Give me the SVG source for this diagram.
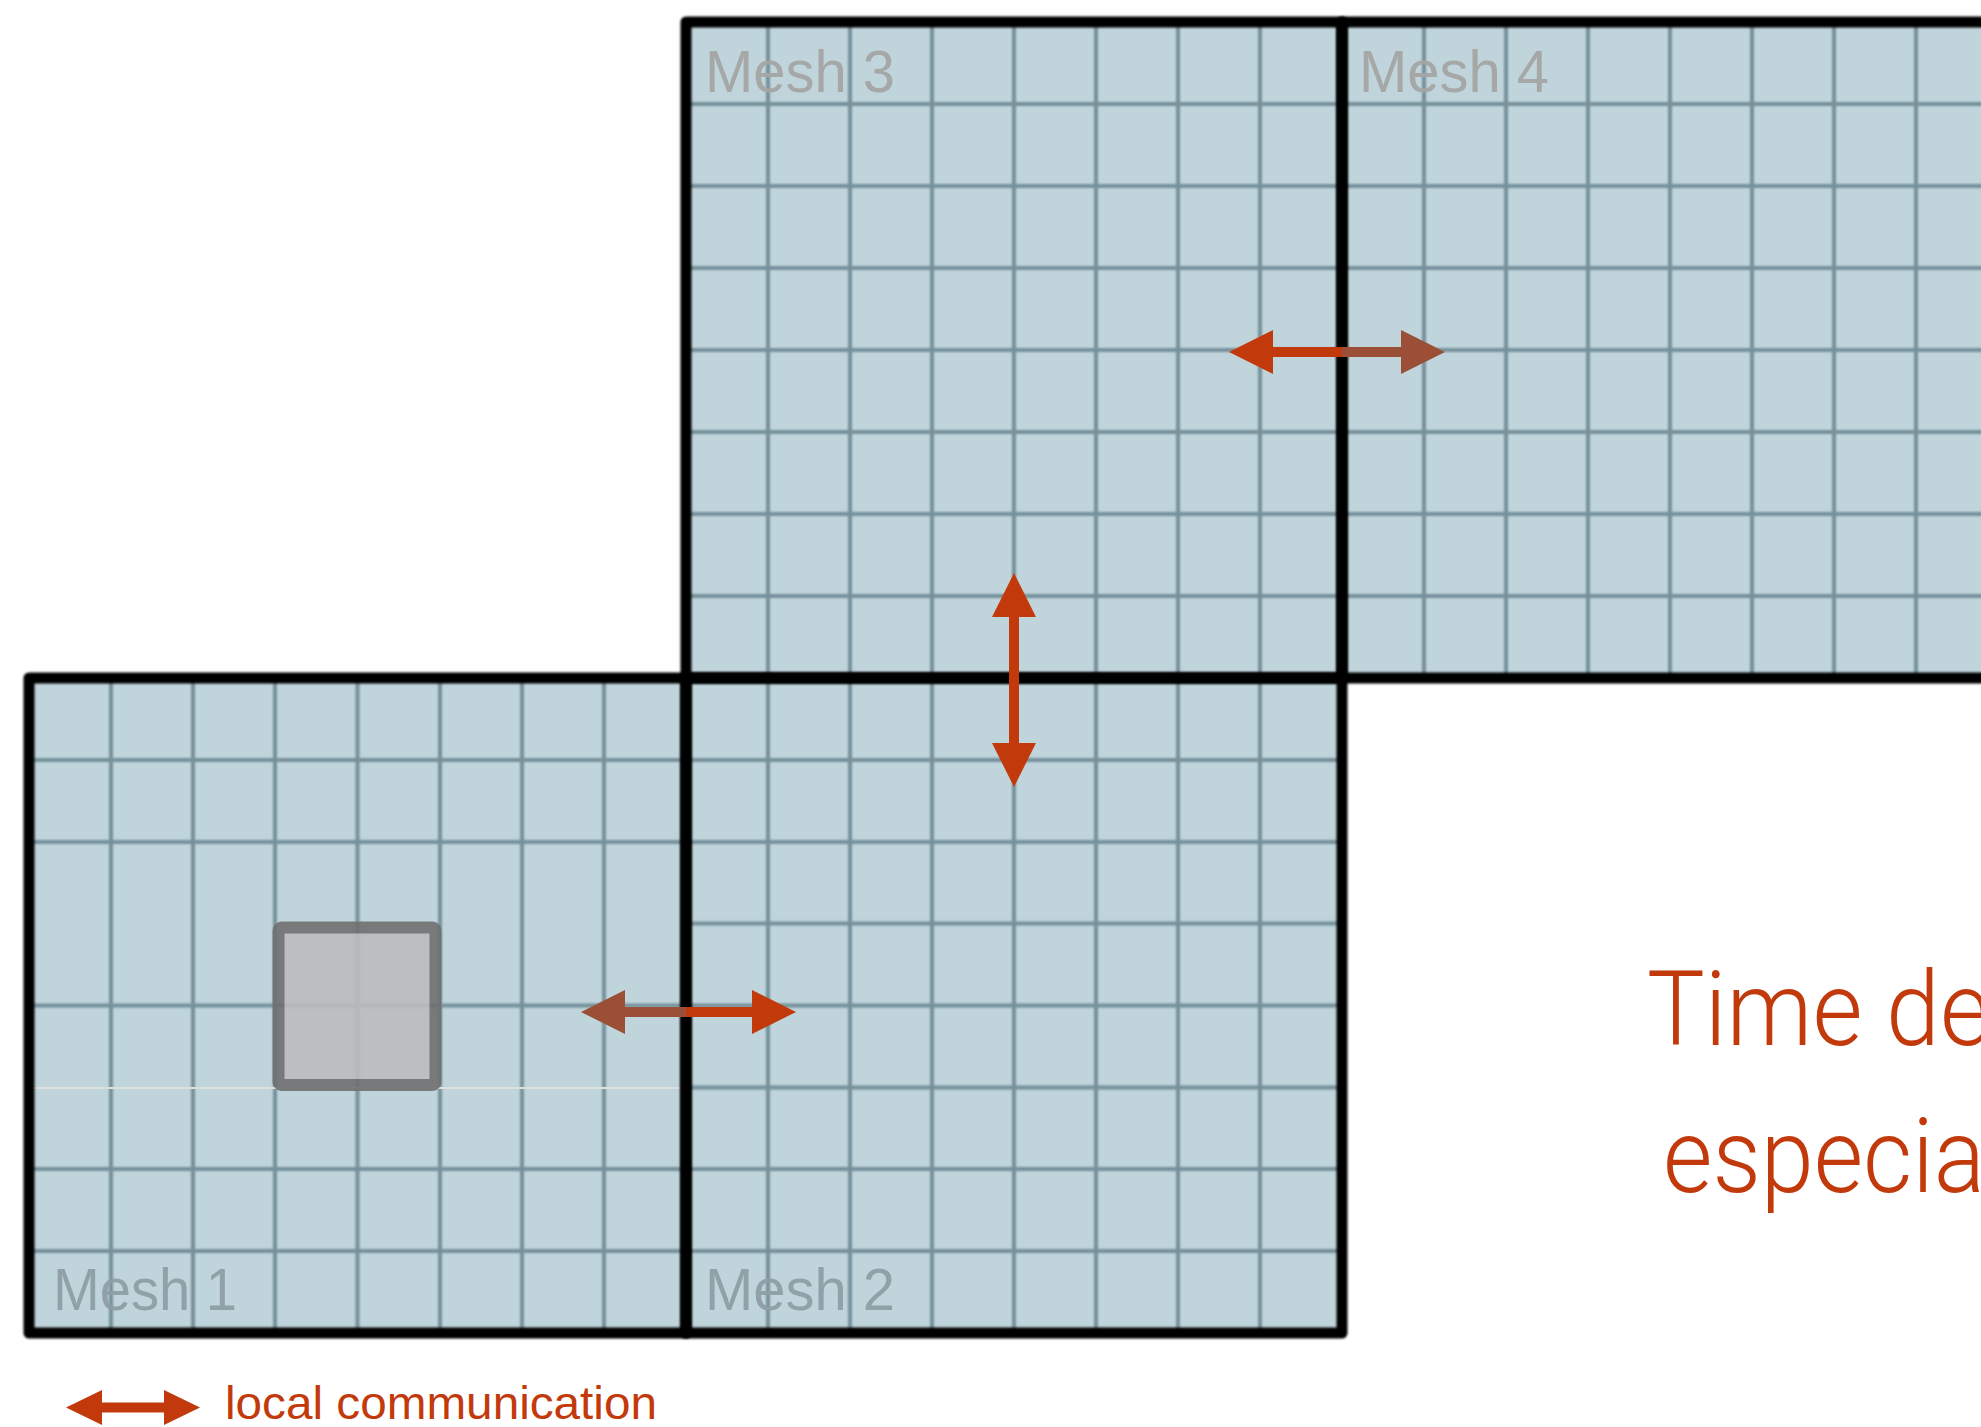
<svg xmlns="http://www.w3.org/2000/svg" width="1981" height="1427" viewBox="0 0 1981 1427">
  <defs>
    <style>
      .fill { fill: #c0d4db; stroke: none; }
      .grid { fill: none; stroke: #74909a; stroke-width: 4; filter: url(#soft); }
      .border { fill: none; stroke: #000000; stroke-width: 11; stroke-linejoin: round; stroke-linecap: round; filter: url(#softer); }
      .lbl-top { font-family: "Liberation Sans", Arial, sans-serif; font-size: 60px; fill: #a5a5a5; }
      .lbl-bot { font-family: "Liberation Sans", Arial, sans-serif; font-size: 60px; fill: #8e9fa5; }
      .bright { stroke: #c23a0b; stroke-width: 10; fill: none; }
      .brown { stroke: #9b4f36; stroke-width: 10; fill: none; }
      .big { font-family: Roboto, "Open Sans", "DejaVu Sans", sans-serif; font-weight: 300; font-size: 104px; fill: #c23a0b; }
      .legend { font-family: "Liberation Sans", Arial, sans-serif; font-size: 47px; fill: #c23a0b; }
    </style>
    <filter id="soft" x="-5%" y="-5%" width="110%" height="110%">
      <feGaussianBlur stdDeviation="1.1"/>
    </filter>
    <filter id="softer" x="-5%" y="-5%" width="110%" height="110%">
      <feGaussianBlur stdDeviation="0.8"/>
    </filter>
    <marker id="headBright" markerUnits="userSpaceOnUse" markerWidth="44" markerHeight="44" refX="0" refY="22" orient="auto" viewBox="0 0 44 44">
      <path d="M0,0 L44,22 L0,44 Z" fill="#c23a0b"/>
    </marker>
    <marker id="headBrown" markerUnits="userSpaceOnUse" markerWidth="44" markerHeight="44" refX="0" refY="22" orient="auto" viewBox="0 0 44 44">
      <path d="M0,0 L44,22 L0,44 Z" fill="#9b4f36"/>
    </marker>
    <marker id="headSmall" markerUnits="userSpaceOnUse" markerWidth="36" markerHeight="35" refX="0" refY="17.5" orient="auto" viewBox="0 0 36 35">
      <path d="M0,0 L36,17.5 L0,35 Z" fill="#c23a0b"/>
    </marker>
  </defs>

  <rect x="0" y="0" width="1981" height="1427" fill="#ffffff"/>

  <!-- Mesh 1 -->
  <g id="mesh1">
    <rect class="fill" x="29" y="678" width="657" height="655"/>
    <path class="grid" d="M111,678V1333 M193,678V1333 M275,678V1333 M357.5,678V1333 M440,678V1333 M522,678V1333 M604,678V1333 M29,760H686 M29,842H686 M29,1005.5H686 M29,1169H686 M29,1251H686"/>
    <path d="M29,923H686" stroke="#86a6b9" stroke-width="3" fill="none" filter="url(#soft)"/>
    <path d="M29,1088H686" stroke="#dedede" stroke-width="2" fill="none"/>
  </g>

  <!-- Mesh 2 -->
  <g id="mesh2">
    <rect class="fill" x="686" y="678" width="656" height="655"/>
    <path class="grid" d="M768,678V1333 M850,678V1333 M932,678V1333 M1014,678V1333 M1096,678V1333 M1178,678V1333 M1260,678V1333 M686,760H1342 M686,842H1342 M686,923.5H1342 M686,1005.5H1342 M686,1087.5H1342 M686,1169H1342 M686,1251H1342"/>
  </g>

  <!-- Mesh 3 -->
  <g id="mesh3">
    <rect class="fill" x="686" y="22" width="656" height="656"/>
    <path class="grid" d="M768,22V678 M850,22V678 M932,22V678 M1014,22V678 M1096,22V678 M1178,22V678 M1260,22V678 M686,104H1342 M686,186H1342 M686,268H1342 M686,350H1342 M686,432H1342 M686,514H1342 M686,596H1342"/>
  </g>

  <!-- Mesh 4 -->
  <g id="mesh4">
    <rect class="fill" x="1342" y="22" width="700" height="656"/>
    <path class="grid" d="M1424,22V678 M1506,22V678 M1588,22V678 M1670,22V678 M1752,22V678 M1834,22V678 M1916,22V678 M1342,104H2040 M1342,186H2040 M1342,268H2040 M1342,350H2040 M1342,432H2040 M1342,514H2040 M1342,596H2040"/>
  </g>

  <!-- highlighted cell -->
  <g id="cell" opacity="0.9">
    <rect x="278.5" y="927.5" width="157" height="157.5" rx="3" fill="#bcbcbc" stroke="#707070" stroke-width="12"/>
  </g>

  <!-- mesh borders -->
  <g id="borders">
    <rect class="border" x="29" y="678" width="657" height="655"/>
    <rect class="border" x="686" y="678" width="656" height="655"/>
    <rect class="border" x="686" y="22" width="656" height="656"/>
    <rect class="border" x="1342" y="22" width="700" height="656"/>
  </g>

  <!-- mesh labels -->
  <g id="labels" opacity="0.95">
    <text class="lbl-top" x="705" y="92" textLength="190" lengthAdjust="spacingAndGlyphs">Mesh 3</text>
    <text class="lbl-top" x="1359" y="92" textLength="190" lengthAdjust="spacingAndGlyphs">Mesh 4</text>
    <text class="lbl-bot" x="53" y="1310" textLength="184" lengthAdjust="spacingAndGlyphs">Mesh 1</text>
    <text class="lbl-bot" x="705" y="1310" textLength="190" lengthAdjust="spacingAndGlyphs">Mesh 2</text>
  </g>

  <!-- connectors -->
  <g id="connectors">
    <!-- Mesh 3 <-> Mesh 4 -->
    <line class="bright" x1="1342" y1="352" x2="1273" y2="352" marker-end="url(#headBright)"/>
    <line class="brown" x1="1342" y1="352" x2="1401" y2="352" marker-end="url(#headBrown)"/>
    <!-- Mesh 1 <-> Mesh 2 -->
    <line class="brown" x1="686" y1="1012" x2="625" y2="1012" marker-end="url(#headBrown)"/>
    <line class="bright" x1="686" y1="1012" x2="752" y2="1012" marker-end="url(#headBright)"/>
    <!-- Mesh 2 <-> Mesh 3 -->
    <line class="bright" x1="1014" y1="678" x2="1014" y2="617" marker-end="url(#headBright)"/>
    <line class="bright" x1="1014" y1="678" x2="1014" y2="743" marker-end="url(#headBright)"/>
  </g>

  <!-- legend -->
  <g id="legend">
    <line class="bright" x1="132" y1="1407.5" x2="102" y2="1407.5" marker-end="url(#headSmall)"/>
    <line class="bright" x1="132" y1="1407.5" x2="164" y2="1407.5" marker-end="url(#headSmall)"/>
    <text class="legend" x="225" y="1419" textLength="432" lengthAdjust="spacingAndGlyphs">local communication</text>
  </g>

  <!-- right text (cut by image edge) -->
  <g id="caption">
    <text class="big" x="1647" y="1045" textLength="343" lengthAdjust="spacingAndGlyphs">Time de</text>
    <text class="big" x="1663" y="1192" textLength="322" lengthAdjust="spacingAndGlyphs">especia</text>
  </g>
</svg>
